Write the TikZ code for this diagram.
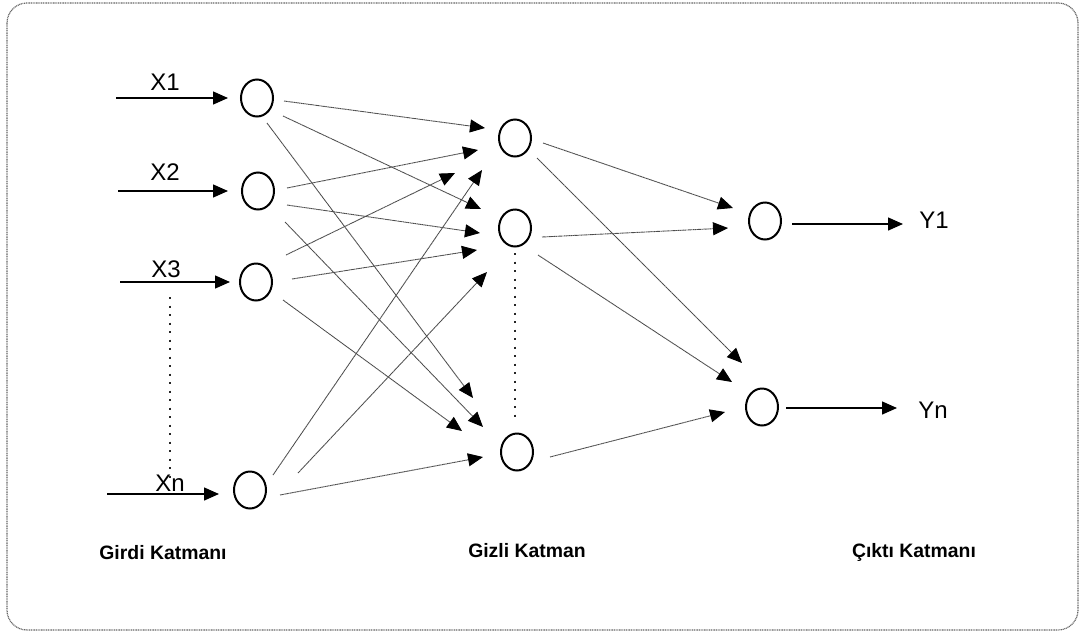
\documentclass[tikz,border=0pt]{standalone}
\usepackage{fontspec}
\setmainfont{Liberation Sans}
\usetikzlibrary{arrows.meta,shapes.geometric,calc}

\tikzset{
  neuron/.style={ellipse, draw=black, line width=2pt, minimum width=32pt,
    minimum height=37pt, inner sep=0pt},
  weight/.style={draw=black!70, line width=0.9pt, dash pattern=on 1.3pt off 0.4pt,
    -{Triangle[length=15pt,width=13pt,color=black]}},
  signal/.style={draw=black, line width=1.4pt,
    -{Triangle[length=15pt,width=13pt]}},
  ellipsis/.style={draw=black!85, line width=2pt, dash pattern=on 2pt off 6.5pt},
  sig/.style={font=\fontsize{24}{28}\selectfont, anchor=base, inner sep=0pt},
  layer/.style={font=\bfseries\fontsize{19.4}{23}\selectfont, anchor=base, inner sep=0pt},
  frame/.style={draw=black!60, line width=1.2pt, dash pattern=on 1pt off 0.7pt,
    rounded corners=20pt}
}

\begin{document}
\begin{tikzpicture}[x=1pt,y=-1pt]
  \useasboundingbox (0,0) rectangle (1080,633);
  \draw[frame] (7,3) rectangle (1078,630);

  % neurons
  \node[neuron] (i1) at (257,98) {};
  \node[neuron] (i2) at (258,191) {};
  \node[neuron] (i3) at (256,282) {};
  \node[neuron] (in) at (250,490) {};
  \node[neuron] (h1) at (515,138) {};
  \node[neuron] (h2) at (515,228) {};
  \node[neuron] (hn) at (517,452) {};
  \node[neuron] (o1) at (765,221) {};
  \node[neuron] (on) at (762,407) {};

  % input and output signals
  \node[sig] (lx1) at (165,90) {X1};
  \node[sig] (lx2) at (165,180) {X2};
  \node[sig] (lx3) at (166,277) {X3};
  \node[sig] (lxn) at (170,491.5) {Xn};
  \node[sig] (ly1) at (934,228) {Y1};
  \node[sig] (lyn) at (933,418) {Yn};

  \draw[signal] ($(i1)+(-141,0)$) -- ($(i1)+(-29,0)$);
  \draw[signal] ($(i2)+(-140,0)$) -- ($(i2)+(-30,0)$);
  \draw[signal] ($(i3)+(-136,0)$) -- ($(i3)+(-26,0)$);
  \draw[signal] ($(in)+(-143,4)$) -- ($(in)+(-31,4)$);
  \draw[signal] ($(o1)+(27,3)$) -- ($(o1)+(138,3)$);
  \draw[signal] ($(on)+(24,1)$) -- ($(on)+(135,1)$);

  % omitted neurons
  \draw[ellipsis] (169.5,297) -- (169.5,480);
  \draw[ellipsis] (515,253) -- (515,420);

  % input -> hidden weights
  \draw[weight] ($(i1)+(27,3)$)   -- ($(h1)+(-30,-10)$);
  \draw[weight] ($(i1)+(26,18)$)  -- ($(h2)+(-34,-19)$);
  \draw[weight] ($(i1)+(10,25)$)  -- ($(hn)+(-44,-54)$);
  \draw[weight] ($(i2)+(29,-3)$)  -- ($(h1)+(-37,12)$);
  \draw[weight] ($(i2)+(29,14)$)  -- ($(h2)+(-35,5)$);
  \draw[weight] ($(i2)+(27,31)$)  -- ($(hn)+(-34,-25)$);
  \draw[weight] ($(i3)+(30,-27)$) -- ($(h1)+(-60,35)$);
  \draw[weight] ($(i3)+(36,-3)$)  -- ($(h2)+(-38,22)$);
  \draw[weight] ($(i3)+(27,18)$)  -- ($(hn)+(-55,-21)$);
  \draw[weight] ($(in)+(23,-15)$) -- ($(h1)+(-33,32)$);
  \draw[weight] ($(in)+(48,-17)$) -- ($(h2)+(-28,44)$);
  \draw[weight] ($(in)+(30,5)$)   -- ($(hn)+(-34,5)$);

  % hidden -> output weights
  \draw[weight] ($(h1)+(28,5)$)  -- ($(o1)+(-32,-13)$);
  \draw[weight] ($(h1)+(22,20)$) -- ($(on)+(-20,-44)$);
  \draw[weight] ($(h2)+(27,9)$)  -- ($(o1)+(-37,7)$);
  \draw[weight] ($(h2)+(23,27)$) -- ($(on)+(-30,-25)$);
  \draw[weight] ($(hn)+(33,5)$)  -- ($(on)+(-37,5)$);

  % layer names
  \node[layer] (lin)  at (163,559) {Girdi Katmanı};
  \node[layer] (lhid) at (527,557) {Gizli Katman};
  \node[layer] (lout) at (914,557) {Çıktı Katmanı};
\end{tikzpicture}
\end{document}
